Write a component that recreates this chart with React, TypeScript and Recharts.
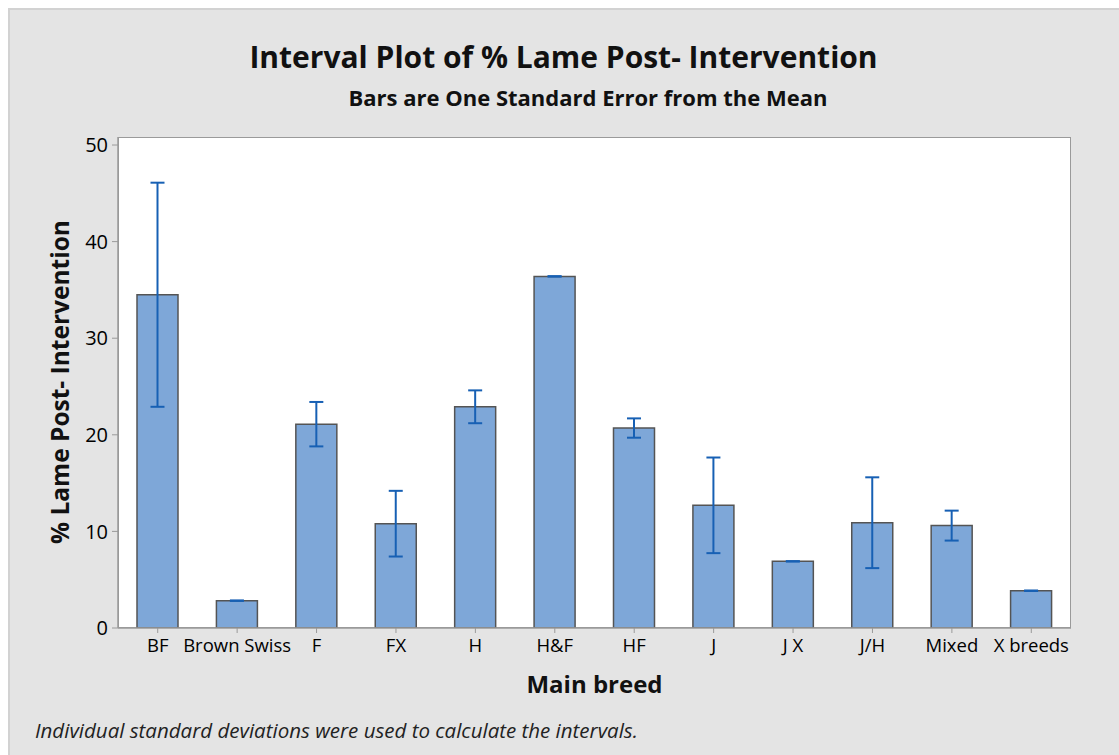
import React from 'react';
import { BarChart, Bar, XAxis, YAxis, ErrorBar, CartesianGrid } from 'recharts';

const breeds = ['BF', 'Brown Swiss', 'F', 'FX', 'H', 'H&F', 'HF', 'J', 'J X', 'J/H', 'Mixed', 'X breeds'];
const meanLame = [34.5, 2.83, 21.1, 10.8, 22.9, 36.4, 20.7, 12.7, 6.9, 10.9, 10.6, 3.86];
// one standard error; the single-herd groups have a (near) zero interval
const stdErr = [11.6, 0.02, 2.3, 3.4, 1.7, 0.02, 1.0, 4.95, 0.02, 4.7, 1.55, 0.02];
const yTicks = [0, 10, 20, 30, 40, 50];

const data = breeds.map((breed, i) => ({ breed, mean: meanLame[i], se: stdErr[i] }));

const FONT = '"Open Sans", "Noto Sans", sans-serif';

export default function App() {
    return (
        <div style={{ position: 'fixed', left: 0, top: 0, width: 1119, height: 755, overflow: 'hidden', fontFamily: FONT }}>
            {/* outer panel */}
            <div
                style={{
                    position: 'absolute',
                    left: 8,
                    top: 8,
                    width: 1130,
                    height: 760,
                    background: '#e4e4e4',
                    borderLeft: '2px solid #d2d2d2',
                    borderTop: '2px solid #d2d2d2',
                }}
            />
            {/* plot area frame */}
            <div
                style={{
                    position: 'absolute',
                    left: 118,
                    top: 137,
                    width: 953,
                    height: 491,
                    background: '#fff',
                    border: '1.5px solid #9a9a9a',
                    boxSizing: 'border-box',
                }}
            />
            <div style={{ position: 'absolute', left: 0, top: 0 }}>
                <BarChart
                    width={1119}
                    height={755}
                    data={data}
                    margin={{ top: 137, right: 48, bottom: 97, left: 58 }}
                >
                    <CartesianGrid horizontal={false} vertical={false} />
                    <XAxis
                        dataKey="breed"
                        height={30}
                        tick={{ fontSize: 18.5, fill: '#000', fontFamily: FONT }}
                        tickSize={5}
                        tickMargin={6}
                        tickLine={{ stroke: '#9a9a9a' }}
                        axisLine={{ stroke: '#9a9a9a', strokeWidth: 1.5 }}
                        interval={0}
                    />
                    <YAxis
                        width={60}
                        domain={[0, 50.83]}
                        ticks={yTicks}
                        allowDataOverflow
                        tick={{ fontSize: 20, fill: '#000', fontFamily: FONT }}
                        tickSize={6}
                        tickMargin={4}
                        tickLine={{ stroke: '#9a9a9a' }}
                        axisLine={{ stroke: '#9a9a9a', strokeWidth: 1.5 }}
                    />
                    <Bar dataKey="mean" fill="#7ea7d8" stroke="#545454" strokeWidth={1.5} barSize={41} isAnimationActive={false}>
                        <ErrorBar dataKey="se" width={7} stroke="#1760b4" strokeWidth={2} isAnimationActive={false} />
                    </Bar>
                </BarChart>
            </div>
            {/* titles and labels */}
            <div style={{ position: 'absolute', left: 8, width: 1111, top: 42, textAlign: 'center', fontSize: 30, fontWeight: 700, lineHeight: 1, color: '#111' }}>
                Interval Plot of % Lame Post- Intervention
            </div>
            <div style={{ position: 'absolute', left: 288, width: 600, top: 86, textAlign: 'center', fontSize: 22, fontWeight: 700, lineHeight: 1, color: '#111' }}>
                Bars are One Standard Error from the Mean
            </div>
            <div style={{ position: 'absolute', left: 118, width: 953, top: 672, textAlign: 'center', fontSize: 24, fontWeight: 700, lineHeight: 1, color: '#111' }}>
                Main breed
            </div>
            <div
                style={{
                    position: 'absolute',
                    left: -140,
                    top: 370,
                    width: 400,
                    height: 24,
                    textAlign: 'center',
                    fontSize: 24.5,
                    fontWeight: 700,
                    lineHeight: 1,
                    color: '#111',
                    transform: 'rotate(-90deg)',
                    transformOrigin: 'center',
                }}
            >
                % Lame Post- Intervention
            </div>
            <div style={{ position: 'absolute', left: 35, top: 720, fontSize: 20.5, fontStyle: 'italic', lineHeight: 1, color: '#222' }}>
                Individual standard deviations were used to calculate the intervals.
            </div>
        </div>
    );
}
